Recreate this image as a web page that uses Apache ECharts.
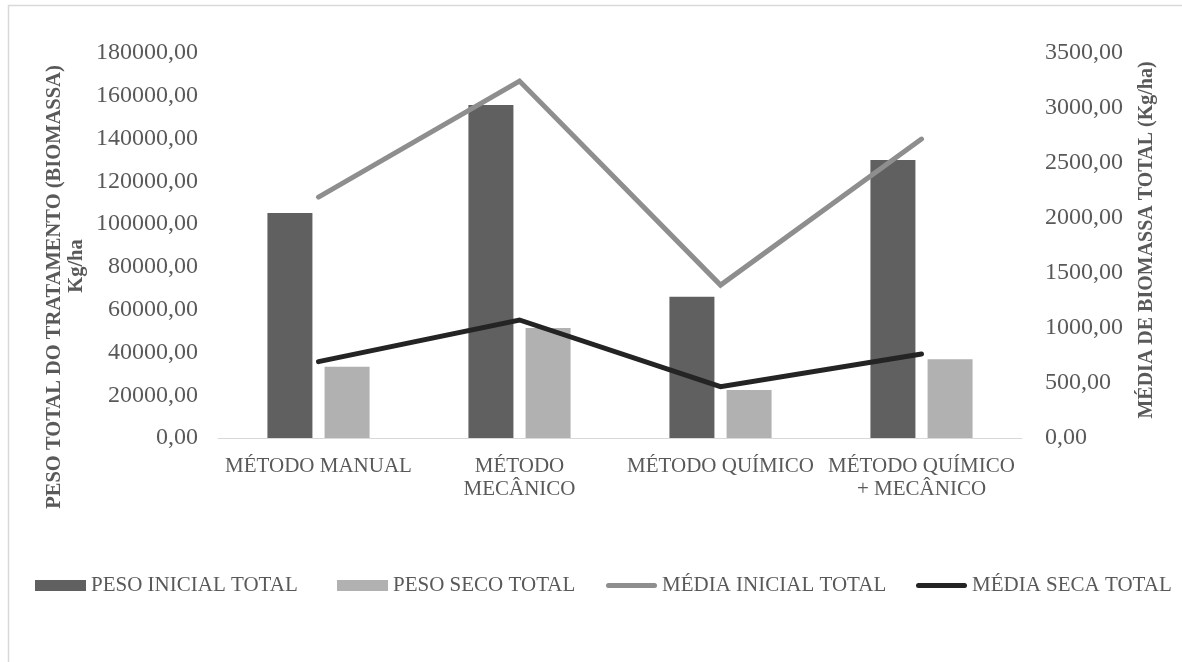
<!DOCTYPE html>
<html>
<head>
<meta charset="utf-8">
<title>Biomassa por método</title>
<script src="https://cdn.jsdelivr.net/npm/echarts@6/dist/echarts.min.js"></script>
<style>
  html, body { margin: 0; padding: 0; background: #ffffff; }
  #chart { width: 1182px; height: 662px; }
</style>
</head>
<body>
<div id="chart"></div>
<script>
// Treatment categories (line breaks as shown under the axis)
const categories = ['MÉTODO MANUAL', 'MÉTODO\nMECÂNICO', 'MÉTODO QUÍMICO', 'MÉTODO QUÍMICO\n+ MECÂNICO'];

// Total weights per treatment (kg/ha) — left axis
const pesoInicialTotal = [105200, 155700, 66000, 130000];
const pesoSecoTotal = [33300, 51400, 22400, 36800];

// Mean biomass per treatment (kg/ha) — right axis
const mediaInicialTotal = [2190, 3245, 1390, 2718];
const mediaSecaTotal = [694, 1073, 466, 764];

const seriesNames = ['PESO INICIAL TOTAL', 'PESO SECO TOTAL', 'MÉDIA INICIAL TOTAL', 'MÉDIA SECA TOTAL'];
const colors = ['#606060', '#b1b1b1', '#8e8e8e', '#242424'];

const FONT = '"Liberation Serif", "Times New Roman", serif';
const TEXT = '#595959';

const fmt = v => Number(v).toFixed(2).replace('.', ',');

const lineIcon = 'path://M2.5,0 L48.5,0 A2.5,2.5 0 0 1 48.5,5 L2.5,5 A2.5,2.5 0 0 1 2.5,0 Z';
const legendLefts = [30, 332, 601, 911];

const legends = seriesNames.map((name, i) => ({
  left: legendLefts[i],
  top: 570,
  orient: 'horizontal',
  itemWidth: 51,
  itemHeight: 11,
  selectedMode: false,
  textStyle: { fontFamily: FONT, fontSize: 21, color: TEXT },
  data: [i < 2
    ? { name: name, icon: 'rect' }
    : { name: name, icon: lineIcon, itemStyle: { color: colors[i], borderWidth: 0 } }]
}));

const chart = echarts.init(document.getElementById('chart'), null, { renderer: 'canvas' });

chart.setOption({
  animation: false,
  backgroundColor: '#ffffff',
  color: colors,
  textStyle: { fontFamily: FONT },
  grid: { left: 218, right: 160, top: 53, bottom: 224, containLabel: false },
  legend: legends,
  xAxis: {
    type: 'category',
    data: categories,
    axisLine: { show: true, lineStyle: { color: '#d9d9d9', width: 1 } },
    axisTick: { show: false },
    splitLine: { show: false },
    axisLabel: {
      interval: 0,
      margin: 17,
      fontFamily: FONT,
      fontSize: 21,
      lineHeight: 23,
      color: TEXT,
      align: 'center'
    }
  },
  yAxis: [
    {
      type: 'value',
      min: 0,
      max: 180000,
      interval: 20000,
      axisLine: { show: false },
      axisTick: { show: false },
      splitLine: { show: false },
      axisLabel: { margin: 20, fontFamily: FONT, fontSize: 24, color: TEXT, formatter: fmt }
    },
    {
      type: 'value',
      position: 'right',
      min: 0,
      max: 3500,
      interval: 500,
      axisLine: { show: false },
      axisTick: { show: false },
      splitLine: { show: false },
      axisLabel: { margin: 23, fontFamily: FONT, fontSize: 24, color: TEXT, formatter: fmt }
    }
  ],
  series: [
    {
      name: seriesNames[0],
      type: 'bar',
      yAxisIndex: 0,
      data: pesoInicialTotal,
      barWidth: 45,
      barGap: '27%',
      itemStyle: { color: colors[0] }
    },
    {
      name: seriesNames[1],
      type: 'bar',
      yAxisIndex: 0,
      data: pesoSecoTotal,
      barWidth: 45,
      barGap: '27%',
      itemStyle: { color: colors[1] }
    },
    {
      name: seriesNames[2],
      type: 'line',
      yAxisIndex: 1,
      data: mediaInicialTotal,
      symbol: 'none',
      color: colors[2],
      lineStyle: { color: colors[2], width: 5, cap: 'round', join: 'miter' },
      z: 3
    },
    {
      name: seriesNames[3],
      type: 'line',
      yAxisIndex: 1,
      data: mediaSecaTotal,
      symbol: 'none',
      color: colors[3],
      lineStyle: { color: colors[3], width: 5, cap: 'round', join: 'miter' },
      z: 4
    }
  ],
  graphic: [
    {
      type: 'rect',
      silent: true,
      shape: { x: 8.5, y: 5.5, width: 1200, height: 700 },
      style: { fill: 'none', stroke: '#d9d9d9', lineWidth: 1.5 },
      z: -10
    },
    {
      type: 'text',
      x: 55,
      y: 287,
      rotation: Math.PI / 2,
      style: {
        text: 'PESO TOTAL DO TRATAMENTO (BIOMASSA)',
        font: 'bold 20.5px ' + FONT,
        fill: TEXT,
        align: 'center',
        verticalAlign: 'middle'
      }
    },
    {
      type: 'text',
      x: 77,
      y: 266,
      rotation: Math.PI / 2,
      style: {
        text: 'Kg/ha',
        font: 'bold 20.5px ' + FONT,
        fill: TEXT,
        align: 'center',
        verticalAlign: 'middle'
      }
    },
    {
      type: 'text',
      x: 1147,
      y: 240,
      rotation: Math.PI / 2,
      style: {
        text: 'MÉDIA DE BIOMASSA TOTAL (Kg/ha)',
        font: 'bold 20px ' + FONT,
        fill: TEXT,
        align: 'center',
        verticalAlign: 'middle'
      }
    }
  ]
});
</script>
</body>
</html>
